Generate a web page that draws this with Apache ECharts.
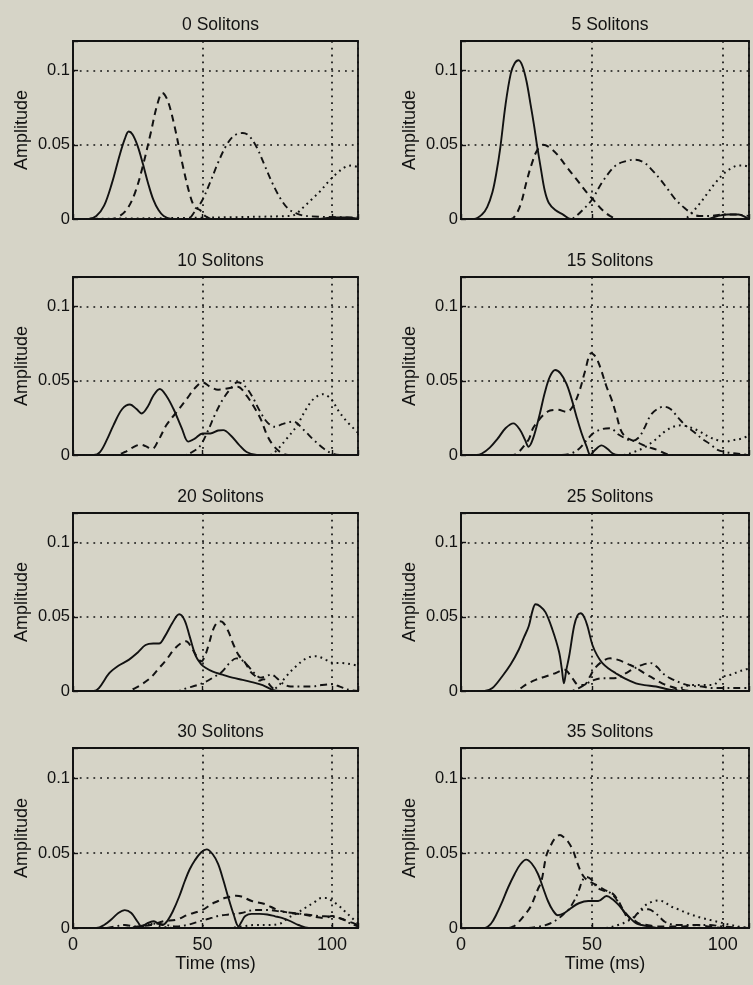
<!DOCTYPE html>
<html>
<head>
<meta charset="utf-8">
<script src="https://cdn.jsdelivr.net/npm/echarts@6/dist/echarts.min.js"></script>
<style>
  html, body { margin: 0; padding: 0; background: #d6d4c7; }
  #chart { width: 753px; height: 985px; }
</style>
</head>
<body>
<div id="chart"></div>
<script>
// ---------------- DATA ----------------
const panelTitles = ['0 Solitons', '5 Solitons', '10 Solitons', '15 Solitons',
                     '20 Solitons', '25 Solitons', '30 Solitons', '35 Solitons'];
const xTickLabels = ['0', '50', '100'];
const yTickLabels = ['0', '0.05', '0.1'];
const xAxisTitle = 'Time (ms)';
const yAxisTitle = 'Amplitude';

// [time (ms), amplitude]
const s0_solid = [[0,0],[6,0],[9,0.002],[12,0.009],[15,0.024],[18,0.043],[20,0.054],[21.5,0.059],[23,0.057],[25,0.049],[27,0.037],[29,0.024],[31,0.013],[33,0.006],[35,0.002],[38,0],[60,0],[95,0],[100,0.001],[106,0.001],[110,0]];
const s0_dashed = [[0,0],[15,0],[18,0.002],[21,0.007],[24,0.018],[27,0.036],[30,0.058],[32.5,0.077],[34.5,0.085],[36.5,0.08],[39,0.064],[42,0.039],[45,0.017],[47,0.008],[49,0.006],[51,0.002],[54,0],[110,0]];
const s0_dashdot = [[0,0],[44,0],[47,0.005],[50,0.013],[53,0.025],[56,0.038],[59,0.049],[62,0.056],[65.5,0.058],[68,0.056],[71,0.048],[74,0.036],[77,0.024],[80,0.014],[83,0.007],[86,0.004],[90,0.002],[110,0.001]];
const s0_dotted = [[0,0],[84,0.002],[86.5,0.004],[89,0.008],[92,0.013],[95,0.018],[99,0.026],[102,0.031],[105,0.035],[107.5,0.036],[110,0.035]];

const s5_solid = [[0,0],[5,0],[8,0.003],[10,0.008],[12,0.018],[13.5,0.031],[15,0.048],[17,0.077],[19,0.098],[20.5,0.105],[22,0.107],[23.5,0.103],[25,0.093],[26.5,0.078],[28,0.062],[29,0.05],[30.5,0.034],[32,0.019],[33.5,0.011],[36,0.006],[39,0.003],[42,0],[94,0],[98,0.002],[102,0.003],[106,0.003],[109,0.001],[110,0]];
const s5_dashed = [[0,0],[19,0],[21,0.003],[23,0.011],[25,0.025],[27,0.037],[29,0.046],[31.4,0.05],[34,0.048],[37,0.043],[40,0.036],[44,0.027],[48,0.018],[51,0.012],[54,0.006],[57,0.002],[60,0],[110,0]];
const s5_dashdot = [[0,0],[42,0],[44,0.002],[47,0.007],[50,0.013],[54,0.025],[59,0.036],[63,0.039],[66.5,0.04],[70,0.038],[73,0.033],[76,0.027],[79,0.02],[82,0.013],[85,0.008],[88,0.004],[91,0.002],[95,0.002],[100,0.003],[105,0.003],[110,0.002]];
const s5_dotted = [[0,0],[85,0],[88,0.004],[91,0.01],[94,0.017],[97,0.024],[100,0.03],[103,0.034],[106,0.036],[108,0.036],[110,0.035]];

const s10_solid = [[0,0],[8,0],[10.4,0.002],[13,0.01],[15.6,0.02],[19,0.031],[22,0.034],[24.5,0.031],[26.5,0.028],[29,0.033],[31,0.04],[33.5,0.0445],[36,0.04],[38.8,0.031],[42,0.018],[44.5,0.009],[47,0.011],[50,0.0145],[53,0.0145],[56,0.0165],[58,0.0168],[61,0.013],[64,0.007],[67,0.002],[71,0],[110,0]];
const s10_dashed = [[0,0],[16,0],[20,0.002],[23,0.005],[26,0.007],[28,0.006],[30.5,0.004],[33,0.01],[36,0.02],[40,0.029],[44,0.038],[47,0.045],[50,0.049],[53,0.046],[56,0.044],[60,0.045],[63.5,0.046],[67,0.04],[70,0.032],[72.5,0.024],[75,0.013],[77.5,0.006],[80,0.002],[83,0],[110,0]];
const s10_dashdot = [[0,0],[43,0],[46,0.002],[49,0.006],[52,0.016],[55,0.028],[58,0.038],[61,0.045],[63.5,0.049],[66,0.047],[69,0.04],[72,0.03],[75,0.022],[78,0.019],[81,0.021],[85,0.0225],[89,0.017],[93,0.01],[97,0.004],[100,0.001],[103,0],[110,0]];
const s10_dotted = [[0,0],[76,0],[78.5,0.003],[82.5,0.011],[86.5,0.02],[90,0.031],[93,0.038],[96.5,0.041],[100,0.037],[102,0.031],[105.5,0.023],[110,0.015]];

const s15_solid = [[0,0],[6,0],[8,0.001],[11,0.005],[14,0.011],[17,0.018],[20,0.0213],[22.5,0.017],[24.5,0.01],[25.8,0.0056],[27.5,0.011],[30,0.027],[32,0.042],[34,0.053],[36,0.0573],[38,0.055],[40.3,0.048],[42.2,0.038],[44.1,0.026],[46,0.015],[48,0.0056],[49.4,0],[51,0.003],[53.7,0.0065],[56,0.004],[58,0.001],[60,0],[110,0]];
const s15_dashed = [[0,0],[20,0],[22,0.002],[24,0.006],[26,0.011],[27.5,0.018],[29.5,0.023],[31.5,0.027],[34,0.03],[37,0.0305],[40.3,0.029],[42.8,0.033],[45.4,0.044],[47.3,0.056],[49.8,0.0686],[51.5,0.066],[53.1,0.0595],[55.6,0.046],[57.6,0.037],[59.5,0.026],[61,0.017],[62.7,0.0124],[65.2,0.01],[68,0.008],[71,0.0056],[75,0.0034],[78,0.001],[81,0],[110,0]];
const s15_dashdot = [[0,0],[38,0],[42,0.001],[45,0.004],[48,0.01],[50.5,0.0146],[54,0.0175],[57,0.018],[60,0.014],[63,0.011],[65.5,0.0095],[68,0.012],[70,0.018],[72.5,0.027],[75,0.031],[77.5,0.0326],[80,0.031],[83,0.025],[86,0.0195],[89,0.0155],[92,0.011],[95,0.0075],[98,0.0035],[101,0.002],[105,0.001],[110,0]];
const s15_dotted = [[0,0],[62,0],[66,0.002],[70,0.005],[74,0.01],[78,0.016],[81,0.019],[84,0.02],[87,0.019],[91,0.016],[95,0.012],[98,0.01],[101,0.009],[104,0.01],[107,0.011],[110,0.013]];

const s20_solid = [[0,0],[8,0],[10,0.002],[14,0.012],[17.5,0.017],[21.5,0.021],[25,0.026],[28,0.031],[31,0.032],[33.2,0.032],[35.5,0.037],[38.4,0.046],[41,0.0517],[43,0.048],[45,0.037],[47.4,0.0235],[49.5,0.018],[51.3,0.0155],[54,0.013],[57.7,0.011],[61.5,0.009],[65.4,0.0075],[69,0.006],[73.2,0.004],[77,0.0007],[80,0],[110,0]];
const s20_dashed = [[0,0],[21,0],[24,0.002],[27,0.005],[30,0.009],[33,0.015],[36,0.021],[39,0.028],[41.5,0.032],[43.6,0.0335],[45.5,0.03],[47.5,0.024],[49.5,0.02],[51,0.024],[52.5,0.032],[54,0.041],[55.5,0.046],[56.5,0.047],[58,0.046],[60,0.04],[62,0.031],[64,0.024],[66.5,0.019],[68.5,0.013],[70.6,0.0097],[72,0.007],[73.5,0.008],[75,0.006],[77,0.002],[79,0],[110,0]];
const s20_dashdot = [[0,0],[40,0],[44,0.002],[48,0.004],[51,0.006],[54,0.009],[57.5,0.013],[60.5,0.019],[63,0.022],[65,0.021],[67.5,0.017],[70,0.012],[72.5,0.009],[74.5,0.01],[76.5,0.011],[78.5,0.009],[81,0.005],[84,0.003],[88,0.003],[92,0.003],[96,0.004],[100,0.0045],[103,0.003],[106,0.001],[110,0]];
const s20_dotted = [[0,0],[76,0],[79,0.003],[82.2,0.0097],[86,0.0165],[90,0.022],[93.8,0.0235],[97.6,0.021],[100.2,0.019],[104,0.0188],[108,0.0178],[110,0.017]];

const s25_solid = [[0,0],[9,0],[12,0.002],[15.7,0.0098],[19,0.018],[22.1,0.028],[24,0.036],[25.9,0.0438],[27.3,0.054],[28.5,0.0585],[30.3,0.057],[32.3,0.053],[34.9,0.0415],[37.4,0.0268],[38.5,0.015],[39.3,0.0052],[40.2,0.014],[41.3,0.0234],[43.2,0.0438],[44.5,0.051],[45.7,0.0524],[47,0.05],[48.3,0.0438],[50.2,0.031],[52,0.024],[54,0.0188],[56.5,0.015],[59.1,0.012],[62.5,0.0085],[66.8,0.0052],[70,0.004],[74.5,0.003],[78,0.0015],[81,0.0005],[84,0],[110,0]];
const s25_dashed = [[0,0],[20,0],[22,0.001],[25,0.0045],[28.5,0.0075],[32.3,0.0098],[36,0.012],[39.5,0.0143],[42.5,0.0086],[45,0.004],[47,0.004],[49,0.009],[51,0.015],[54,0.02],[57,0.022],[60,0.021],[64,0.018],[67,0.0155],[70,0.012],[73,0.009],[77,0.005],[80,0.003],[84,0.001],[88,0],[110,0]];
const s25_dashdot = [[0,0],[42,0],[45,0.002],[48,0.005],[51,0.0075],[54,0.0086],[57,0.0086],[60,0.009],[63,0.012],[66,0.015],[69,0.0175],[72.5,0.0188],[75,0.016],[77,0.012],[80,0.0085],[84.7,0.005],[88,0.0035],[92,0.003],[96,0.002],[100,0.002],[105,0.002],[110,0.002]];
const s25_dotted = [[0,0],[80,0],[84,0.002],[88,0.004],[92,0.004],[96,0.004],[98,0.006],[100,0.0095],[103,0.011],[106,0.013],[108.5,0.0145],[110,0.015]];

const s30_solid = [[0,0],[9,0],[12,0.002],[15,0.006],[17.5,0.01],[20,0.0119],[22.5,0.01],[25,0.004],[26.5,0.001],[28.5,0.003],[31,0.0045],[33,0.003],[34.5,0.002],[36.5,0.005],[38.5,0.011],[41,0.021],[43.2,0.0315],[45,0.039],[47,0.045],[49.5,0.0505],[51.6,0.0524],[54,0.049],[56,0.0427],[58,0.032],[60,0.02],[62,0.009],[63.9,0.001],[65,0.004],[66.5,0.008],[69,0.0094],[72,0.0094],[75,0.009],[78,0.0078],[80.6,0.0067],[84,0.0045],[87,0.002],[91,0],[110,0]];
const s30_dashed = [[0,0],[20,0],[25,0.001],[30,0.002],[35,0.0045],[40,0.0056],[44.5,0.009],[48.4,0.011],[51,0.013],[53.5,0.016],[56,0.018],[58.5,0.02],[61,0.021],[63,0.0215],[65,0.021],[69,0.018],[74,0.016],[79,0.012],[84,0.01],[89,0.009],[93,0.0075],[97,0.0067],[100,0.008],[103,0.0065],[106,0.0045],[108,0.0034],[110,0.002]];
const s30_dashdot = [[0,0],[12,0],[16,0.001],[20,0.002],[24,0.001],[28,0.002],[32,0.003],[36,0.002],[40,0.001],[44,0.002],[48,0.004],[52,0.006],[56,0.008],[60,0.009],[65,0.01],[70,0.012],[75,0.012],[80,0.011],[85,0.01],[90,0.009],[95,0.008],[100,0.0075],[104,0.006],[107,0.003],[110,0.001]];
const s30_dotted = [[0,0],[25,0],[28,0.002],[31,0.003],[34,0.001],[40,0],[60,0],[65,0.001],[70,0.002],[75,0.002],[80,0.003],[83,0.0067],[86.5,0.01],[89.7,0.0135],[93,0.017],[96,0.02],[98,0.02],[100,0.018],[102.5,0.015],[105,0.011],[107.5,0.007],[110,0.003]];

const s35_solid = [[0,0],[9,0],[11.5,0.003],[13.5,0.009],[15.3,0.0157],[18,0.027],[20.5,0.036],[22.5,0.042],[24.9,0.0456],[27,0.043],[29.4,0.036],[31.5,0.026],[33.2,0.018],[35,0.012],[37,0.0085],[39.5,0.01],[42.2,0.0135],[45,0.0165],[48.6,0.018],[52.4,0.018],[55.6,0.0213],[58,0.019],[60,0.0157],[62.7,0.0101],[65.2,0.0056],[67,0.003],[69,0.002],[72,0.001],[76,0],[110,0]];
const s35_dashed = [[0,0],[18,0],[20,0.001],[21.7,0.0034],[24,0.008],[26.5,0.014],[29.4,0.026],[30.7,0.031],[32.6,0.0483],[34,0.054],[35.8,0.0595],[37.8,0.062],[39.5,0.06],[40.9,0.0575],[42.8,0.0517],[44.1,0.045],[45.4,0.039],[47,0.034],[49,0.031],[52.4,0.028],[54.3,0.026],[56.5,0.024],[58.2,0.0225],[60.1,0.018],[62,0.012],[64.4,0.007],[66.3,0.005],[68,0.003],[71,0.002],[75,0.001],[80,0.001],[85,0.001],[90,0.002],[95,0.001],[100,0],[110,0]];
const s35_dashdot = [[0,0],[25,0],[30,0.001],[34,0.003],[37,0.006],[39.7,0.01],[41,0.012],[43.5,0.019],[45,0.025],[46.5,0.032],[48,0.034],[50,0.032],[52,0.027],[54.3,0.025],[56.5,0.024],[58.5,0.021],[60.5,0.016],[62.5,0.01],[64,0.006],[65.5,0.006],[67,0.009],[69,0.012],[71.6,0.0125],[74.2,0.01],[76,0.007],[78,0.004],[82,0.002],[86,0.002],[90,0.002],[95,0.002],[100,0.001],[110,0]];
const s35_dotted = [[0,0],[55,0],[60,0.002],[63,0.004],[66.5,0.008],[70,0.0146],[73,0.0175],[75.4,0.0184],[78,0.017],[80,0.0145],[83,0.0124],[87,0.0095],[92,0.0067],[96,0.005],[99.7,0.0034],[103,0.002],[106,0.001],[110,0]];

const panelSeries = [
  [s0_solid, s0_dashed, s0_dashdot, s0_dotted],
  [s5_solid, s5_dashed, s5_dashdot, s5_dotted],
  [s10_solid, s10_dashed, s10_dashdot, s10_dotted],
  [s15_solid, s15_dashed, s15_dashdot, s15_dotted],
  [s20_solid, s20_dashed, s20_dashdot, s20_dotted],
  [s25_solid, s25_dashed, s25_dashdot, s25_dotted],
  [s30_solid, s30_dashed, s30_dashdot, s30_dotted],
  [s35_solid, s35_dashed, s35_dashdot, s35_dotted]
];

// ---------------- LAYOUT / STYLE ----------------
const INK = '#121212';
const FONT = '"Liberation Sans", Arial, Helvetica, sans-serif';
const colLeft = [73, 461];
const colWidth = [285, 288];
const rowTop = [41, 277, 513, 748];
const rowHeight = [178, 178, 178, 180];
const lineTypes = [
  { type: 'solid', width: 1.9 },
  { type: [7, 5], width: 2 },
  { type: [7, 4, 1.8, 4], width: 1.9 },
  { type: [1.8, 4], width: 2 }
];
const gridDots = { color: INK, width: 1.7, type: [1.8, 5] };

const grids = [], xAxes = [], yAxes = [], series = [], titles = [];
for (let i = 0; i < 8; i++) {
  const col = i % 2, row = Math.floor(i / 2);
  const left = colLeft[col], top = rowTop[row], w = colWidth[col], h = rowHeight[row];
  const bottomRow = row === 3;
  grids.push({ left: left, top: top, width: w, height: h, show: true,
               borderColor: INK, borderWidth: 1.8, backgroundColor: 'transparent' });
  titles.push({ text: panelTitles[i], left: left + w / 2, top: top - 30, textAlign: 'center',
                textStyle: { fontFamily: FONT, fontSize: 17.5, fontWeight: 'normal', color: INK } });
  xAxes.push({
    type: 'value', gridIndex: i, min: 0, max: 110, interval: 50,
    name: bottomRow ? xAxisTitle : '', nameLocation: 'middle', nameGap: 27,
    nameTextStyle: { fontFamily: FONT, fontSize: 18, color: INK },
    axisLine: { show: true, onZero: false, lineStyle: { color: INK, width: 1.8 } },
    axisTick: { show: true, inside: true, length: 5, lineStyle: { color: INK, width: 1.4 } },
    axisLabel: { show: bottomRow, margin: 8, fontFamily: FONT, fontSize: 18, color: INK,
      formatter: function (v) { const k = [0, 50, 100].indexOf(Math.round(v)); return (k >= 0 && Math.abs(v - Math.round(v)) < 1e-9) ? xTickLabels[k] : ''; } },
    splitLine: { show: true, lineStyle: gridDots }
  });
  yAxes.push({
    type: 'value', gridIndex: i, min: 0, max: 0.12, interval: 0.05,
    name: yAxisTitle, nameLocation: 'middle', nameGap: 42,
    nameTextStyle: { fontFamily: FONT, fontSize: 18, color: INK },
    axisLine: { show: true, onZero: false, lineStyle: { color: INK, width: 1.8 } },
    axisTick: { show: true, inside: true, length: 5, lineStyle: { color: INK, width: 1.4 } },
    axisLabel: { margin: 3, fontFamily: FONT, fontSize: 16.5, color: INK,
      formatter: function (v) {
        if (Math.abs(v) < 1e-9) return yTickLabels[0];
        if (Math.abs(v - 0.05) < 1e-9) return yTickLabels[1];
        if (Math.abs(v - 0.1) < 1e-9) return yTickLabels[2];
        return '';
      } },
    splitLine: { show: true, lineStyle: gridDots }
  });
  panelSeries[i].forEach(function (d, k) {
    series.push({
      type: 'line', xAxisIndex: i, yAxisIndex: i, data: d, smooth: 0.35,
      showSymbol: false, symbol: 'none', clip: true,
      lineStyle: { color: INK, width: lineTypes[k].width, type: lineTypes[k].type },
      emphasis: { disabled: true }, silent: true
    });
  });
}

const chart = echarts.init(document.getElementById('chart'), null, { renderer: 'canvas' });
chart.setOption({
  backgroundColor: '#d6d4c7',
  animation: false,
  title: titles,
  grid: grids,
  xAxis: xAxes,
  yAxis: yAxes,
  series: series
});
</script>
</body>
</html>
